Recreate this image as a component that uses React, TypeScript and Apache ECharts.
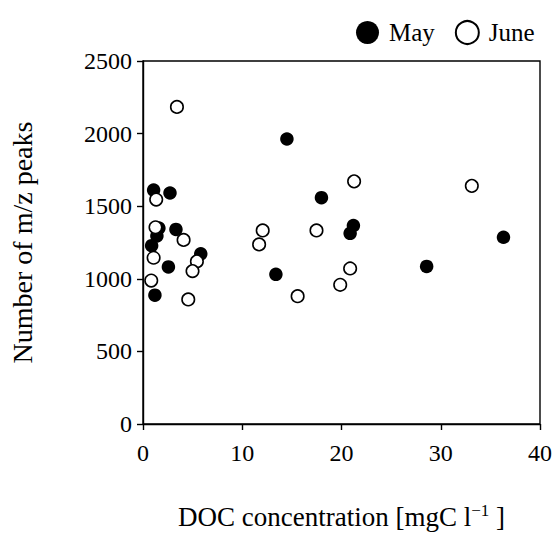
import React, { useEffect, useRef } from "react";
import * as echarts from "echarts";

const mayDOC = [1.07, 2.72, 1.6, 1.4, 3.32, 0.87, 5.82, 2.56, 1.2, 14.5, 17.98, 21.2, 20.87, 13.39, 36.32, 28.58];
const mayPeaks = [1611, 1591, 1349, 1295, 1340, 1228, 1172, 1082, 887, 1963, 1559, 1367, 1313, 1031, 1286, 1085];
const juneDOC = [3.42, 1.33, 1.26, 4.09, 1.07, 5.43, 4.99, 0.83, 4.56, 21.27, 12.06, 11.7, 17.48, 20.87, 19.87, 15.58, 33.13];
const junePeaks = [2184, 1546, 1355, 1268, 1145, 1120, 1053, 988, 858, 1671, 1333, 1237, 1333, 1071, 959, 880, 1640];
const seriesNames = ["May", "June"];

const FONT = "'Liberation Serif', 'Times New Roman', serif";

export default function App() {
  const ref = useRef<HTMLDivElement>(null);
  useEffect(() => {
    if (!ref.current) return;
    const chart = echarts.init(ref.current, undefined, { renderer: "svg" });
    const axisCommon = {
      axisLine: { show: true, onZero: false, lineStyle: { color: "#000", width: 1.4 } },
      axisTick: { show: true, inside: false, length: 6, lineStyle: { color: "#000", width: 1.4 } },
      splitLine: { show: false },
      axisLabel: { color: "#000", fontFamily: FONT, fontSize: 24, formatter: (v: number) => String(v) },
    };
    chart.setOption({
      animation: false,
      backgroundColor: "#fff",
      grid: { left: 140, right: 13, top: 61, bottom: 102, show: true, borderColor: "#000", borderWidth: 1.4, backgroundColor: "transparent" },
      legend: {
        left: 351,
        top: 15,
        itemWidth: 23,
        itemHeight: 23,
        itemGap: 20,
        icon: "circle",
        textStyle: { color: "#000", fontFamily: FONT, fontSize: 25, padding: [0, 0, 0, 5] },
        data: seriesNames,
      },
      xAxis: {
        type: "value",
        min: 0,
        max: 40,
        interval: 10,
        ...axisCommon,
        axisLabel: { ...axisCommon.axisLabel, margin: 17 },
        name: "DOC concentration [mgC l{sup|\u22121} ]",
        nameLocation: "middle",
        nameGap: 78,
        nameTextStyle: {
          color: "#000",
          fontFamily: FONT,
          fontSize: 27,
          rich: { sup: { fontFamily: FONT, fontSize: 17, color: "#000", verticalAlign: "top", padding: [0, 0, 12, 0] } },
        },
      },
      yAxis: {
        type: "value",
        min: 0,
        max: 2500,
        interval: 500,
        ...axisCommon,
        axisLabel: { ...axisCommon.axisLabel, margin: 11 },
        name: "Number of m/z peaks",
        nameLocation: "middle",
        nameGap: 107,
        nameTextStyle: { color: "#000", fontFamily: FONT, fontSize: 28 },
      },
      series: [
        {
          name: seriesNames[0],
          type: "scatter",
          symbol: "circle",
          symbolSize: 13.5,
          itemStyle: { color: "#000", borderColor: "#000", borderWidth: 0, opacity: 1 },
          data: mayDOC.map((x, i) => [x, mayPeaks[i]]),
        },
        {
          name: seriesNames[1],
          type: "scatter",
          symbol: "circle",
          symbolSize: 12.5,
          itemStyle: { color: "#fff", borderColor: "#000", borderWidth: 1.6, opacity: 1 },
          data: juneDOC.map((x, i) => [x, junePeaks[i]]),
        },
      ],
    });
    return () => chart.dispose();
  }, []);
  return <div ref={ref} style={{ position: "absolute", left: 0, top: 0, width: 555, height: 535 }} />;
}
